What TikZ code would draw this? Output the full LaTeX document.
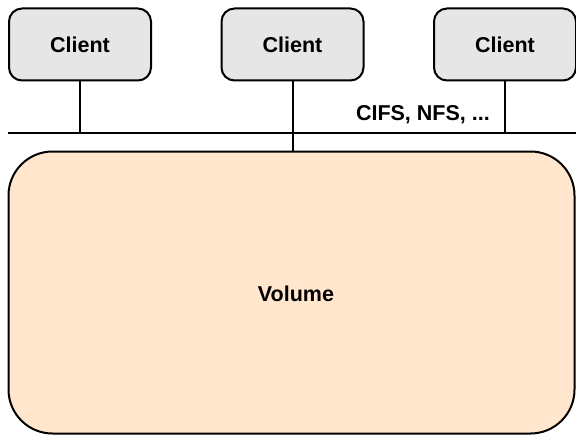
\documentclass[tikz,border=0pt]{standalone}
\usepackage{fontspec}
\setmainfont{Liberation Sans}
\definecolor{clientfill}{HTML}{E6E6E6}
\definecolor{volfill}{HTML}{FFE6CC}
\begin{document}
\begin{tikzpicture}[x=1pt,y=-1pt,
  lw/.style={line width=2pt},
  client/.style={lw,draw=black,fill=clientfill,rounded corners=13pt,minimum width=142pt,minimum height=72pt,inner sep=0pt,font=\fontsize{21.5}{24}\selectfont\bfseries},
  volbox/.style={lw,draw=black,fill=volfill,rounded corners=44pt,minimum width=566pt,minimum height=282pt,inner sep=0pt},
  lbl/.style={font=\fontsize{21.5}{24}\selectfont\bfseries,inner sep=0pt}]
\useasboundingbox (0,0) rectangle (576,436);
\node[client] (c1) at (80,44.5) {Client};
\node[client] (c2) at (292.5,44.5) {Client};
\node[client] (c3) at (505,44.5) {Client};
\node[volbox] (vol) at (291.5,292.5) {};
\node[lbl] (vollbl) at (296,293.5) {Volume};
\coordinate (busL) at (8,133);
\coordinate (busR) at (576,133);
\draw[lw] (busL) -- (busR);
\draw[lw] (c1.south) -- (c1.south |- busL);
\draw[lw] (c3.south) -- (c3.south |- busL);
\draw[lw] (c2.south) -- (c2.south |- vol.north);
\node[lbl,anchor=east] (proto) at (490,115) {CIFS, NFS, ...};
\end{tikzpicture}
\end{document}
